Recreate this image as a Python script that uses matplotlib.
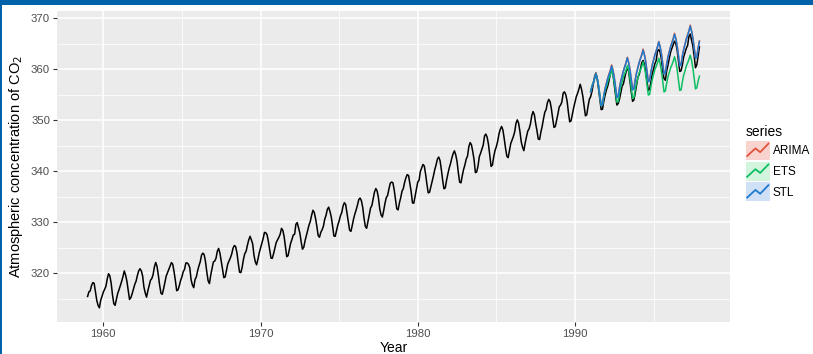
import matplotlib
matplotlib.use('Agg')
import matplotlib.pyplot as plt
from matplotlib.legend_handler import HandlerBase
from matplotlib.lines import Line2D
from matplotlib.patches import Rectangle
import numpy as np

plt.rcParams['font.family'] = ['Liberation Sans', 'DejaVu Sans']

# Monthly CO2 (ppm), Jan 1959 - Dec 1997
co2 = [
    315.42, 316.31, 316.50, 317.56, 318.13, 318.00, 316.39, 314.65, 313.68, 313.18, 314.66, 315.43,
    316.27, 316.81, 317.42, 318.87, 319.87, 319.43, 318.01, 315.74, 314.00, 313.68, 314.84, 316.03,
    316.73, 317.54, 318.38, 319.31, 320.42, 319.61, 318.42, 316.63, 314.83, 315.16, 315.94, 316.85,
    317.78, 318.40, 319.53, 320.42, 320.85, 320.45, 319.45, 317.25, 316.11, 315.27, 316.53, 317.53,
    318.58, 318.92, 319.70, 321.22, 322.08, 321.31, 319.58, 317.61, 316.05, 315.83, 316.91, 318.20,
    319.41, 320.07, 320.74, 321.40, 322.06, 321.73, 320.27, 318.54, 316.54, 316.71, 317.53, 318.55,
    319.27, 320.28, 320.73, 321.97, 322.00, 321.71, 321.05, 318.71, 317.66, 317.14, 318.70, 319.25,
    320.46, 321.43, 322.23, 323.54, 323.91, 323.59, 322.24, 320.20, 318.48, 317.94, 319.63, 320.87,
    322.17, 322.34, 322.88, 324.25, 324.83, 323.93, 322.38, 320.76, 319.10, 319.24, 320.56, 321.80,
    322.40, 322.99, 323.73, 324.86, 325.40, 325.20, 323.98, 321.95, 320.18, 320.09, 321.16, 322.74,
    323.83, 324.26, 325.47, 326.50, 327.21, 326.54, 325.72, 323.50, 322.22, 321.62, 322.69, 323.95,
    324.89, 325.82, 326.77, 327.97, 327.91, 327.50, 326.18, 324.53, 322.93, 322.90, 323.85, 324.96,
    326.01, 326.51, 327.01, 327.62, 328.76, 328.40, 327.20, 325.27, 323.20, 323.40, 324.63, 325.85,
    326.60, 327.47, 327.58, 329.56, 329.90, 328.92, 327.88, 326.16, 324.68, 325.04, 326.34, 327.39,
    328.37, 329.40, 330.14, 331.33, 332.31, 331.90, 330.70, 329.15, 327.35, 327.02, 327.99, 328.48,
    329.18, 330.55, 331.32, 332.48, 332.92, 332.08, 331.01, 329.23, 327.27, 327.21, 328.29, 329.41,
    330.23, 331.25, 331.87, 333.14, 333.80, 333.43, 331.73, 329.90, 328.40, 328.17, 329.32, 330.59,
    331.58, 332.39, 333.33, 334.41, 334.71, 334.17, 332.89, 330.77, 329.14, 328.78, 330.14, 331.52,
    332.75, 333.24, 334.53, 335.90, 336.57, 336.10, 334.76, 332.59, 331.42, 330.98, 332.24, 333.68,
    334.80, 335.22, 336.47, 337.59, 337.84, 337.72, 336.37, 334.51, 332.60, 332.38, 333.75, 334.78,
    336.05, 336.59, 337.79, 338.71, 339.30, 339.12, 337.56, 335.92, 333.75, 333.70, 335.12, 336.56,
    337.84, 338.19, 339.91, 340.60, 341.29, 341.00, 339.39, 337.43, 335.72, 335.84, 336.93, 338.04,
    339.06, 340.30, 341.21, 342.33, 342.74, 342.08, 340.32, 338.26, 336.52, 336.68, 338.19, 339.44,
    340.57, 341.44, 342.53, 343.39, 343.96, 343.18, 341.88, 339.65, 337.81, 337.69, 339.09, 340.32,
    341.20, 342.35, 342.93, 344.77, 345.58, 345.14, 343.81, 342.21, 339.69, 339.82, 340.98, 342.82,
    343.52, 344.33, 345.11, 346.88, 347.25, 346.62, 345.22, 343.11, 340.90, 341.18, 342.80, 344.04,
    344.79, 345.82, 347.25, 348.17, 348.74, 348.07, 346.38, 344.51, 342.92, 342.62, 344.06, 345.38,
    346.11, 346.78, 347.68, 349.37, 350.03, 349.37, 347.76, 345.73, 344.68, 343.99, 345.48, 346.72,
    347.84, 348.29, 349.23, 350.80, 351.66, 351.07, 349.33, 347.92, 346.27, 346.18, 347.64, 348.78,
    350.25, 351.54, 352.05, 353.41, 354.04, 353.62, 352.22, 350.27, 348.55, 348.72, 349.91, 351.18,
    352.60, 352.92, 353.53, 355.26, 355.52, 354.97, 353.75, 351.52, 349.64, 349.83, 351.14, 352.37,
    353.50, 354.55, 355.23, 356.04, 357.00, 356.07, 354.67, 352.76, 350.82, 351.04, 352.69, 354.07,
    354.59, 355.63, 357.03, 358.48, 359.22, 358.12, 356.06, 353.92, 352.05, 352.11, 353.64, 354.89,
    355.88, 356.63, 357.72, 359.07, 359.58, 359.17, 356.94, 354.92, 352.94, 353.23, 354.09, 355.33,
    356.63, 357.10, 358.32, 359.41, 360.23, 359.55, 357.53, 355.48, 353.67, 353.95, 355.30, 356.78,
    358.34, 358.89, 359.95, 361.25, 361.67, 360.94, 359.55, 357.49, 355.84, 356.00, 357.59, 359.05,
    359.98, 361.03, 361.66, 363.48, 363.82, 363.30, 361.94, 359.50, 358.11, 357.80, 359.61, 360.74,
    362.09, 363.29, 364.06, 364.76, 365.45, 365.01, 363.70, 361.54, 359.51, 359.65, 360.80, 362.38,
    363.23, 364.06, 364.61, 366.40, 366.84, 365.68, 364.52, 362.57, 360.24, 360.83, 362.49, 364.34,
]
co2_start = 1959

# Forecasts, Jan 1991 - Dec 1997
fc_start = 1991
arima = [
    355.6, 356.6, 357.4, 358.2, 359.2, 358.2, 356.8, 354.8, 352.9, 353.1, 354.8, 356.2,
    357.2, 358.2, 359.0, 359.8, 360.8, 359.8, 358.4, 356.4, 354.5, 354.7, 356.4, 357.7,
    358.7, 359.7, 360.5, 361.3, 362.3, 361.3, 359.9, 358.0, 356.0, 356.2, 357.9, 359.3,
    360.3, 361.3, 362.1, 362.9, 363.9, 362.9, 361.5, 359.5, 357.6, 357.8, 359.5, 360.8,
    361.8, 362.8, 363.6, 364.4, 365.4, 364.4, 363.0, 361.1, 359.1, 359.3, 361.0, 362.4,
    363.4, 364.4, 365.2, 366.0, 367.0, 366.0, 364.6, 362.6, 360.7, 360.9, 362.6, 363.9,
    364.9, 365.9, 366.7, 367.5, 368.6, 367.5, 366.1, 364.2, 362.2, 362.4, 364.1, 365.5,
]
ets = [
    355.6, 356.7, 357.3, 358.1, 359.1, 358.1, 356.7, 354.7, 352.8, 353.0, 354.6, 355.8,
    356.5, 357.5, 358.2, 358.9, 359.8, 358.9, 357.4, 355.5, 353.5, 353.6, 355.2, 356.6,
    357.5, 358.5, 359.1, 359.8, 360.7, 359.7, 358.2, 356.2, 354.2, 354.4, 356.0, 357.3,
    358.2, 359.2, 359.8, 360.5, 361.4, 360.4, 358.9, 356.9, 354.9, 355.0, 356.6, 357.9,
    358.9, 359.9, 360.5, 361.2, 362.1, 361.1, 359.6, 357.6, 355.5, 355.7, 357.2, 358.5,
    359.3, 360.2, 360.8, 361.5, 362.4, 361.4, 359.9, 357.8, 355.8, 355.9, 357.5, 358.8,
    359.6, 360.6, 361.2, 361.9, 362.7, 361.7, 360.2, 358.2, 356.1, 356.3, 357.6, 358.6,
]
stl = [
    355.5, 356.5, 357.3, 358.1, 359.1, 358.1, 356.7, 354.8, 352.8, 353.0, 354.7, 356.1,
    357.1, 358.1, 358.9, 359.6, 360.6, 359.7, 358.3, 356.4, 354.4, 354.6, 356.3, 357.6,
    358.6, 359.6, 360.4, 361.2, 362.2, 361.2, 359.8, 357.9, 355.9, 356.1, 357.8, 359.2,
    360.2, 361.2, 362.0, 362.7, 363.7, 362.8, 361.4, 359.5, 357.5, 357.7, 359.4, 360.7,
    361.7, 362.7, 363.5, 364.3, 365.3, 364.3, 362.9, 361.0, 359.0, 359.2, 360.9, 362.3,
    363.3, 364.3, 365.1, 365.8, 366.8, 365.9, 364.5, 362.6, 360.6, 360.8, 362.5, 363.8,
    364.8, 365.8, 366.6, 367.4, 368.4, 367.4, 366.0, 364.1, 362.1, 362.3, 364.0, 365.4,
]

series_names = ['ARIMA', 'ETS', 'STL']
series_values = [arima, ets, stl]
line_colors = ['#E0533D', '#0DBF63', '#1F7ACF']
key_fills = ['#F9D4CF', '#D3F5DD', '#CFE0F7']

x_ticks = [1960, 1970, 1980, 1990]
y_ticks = [320, 330, 340, 350, 360, 370]


class ForecastKey(HandlerBase):
    # shaded box with a little zig-zag line, like the ggplot forecast key
    def __init__(self, fill):
        super().__init__()
        self.fill = fill

    def create_artists(self, legend, orig_handle, xdescent, ydescent,
                       width, height, fontsize, trans):
        x0, y0 = -xdescent, -ydescent
        box = Rectangle((x0, y0), width, height, facecolor=self.fill,
                        edgecolor='none', transform=trans)
        fx = np.array([0.05, 0.4, 0.6, 0.95])
        fy = np.array([0.2, 0.6, 0.4, 0.85])
        zig = Line2D(x0 + fx * width, y0 + fy * height,
                     color=orig_handle.get_color(), lw=1.3, transform=trans)
        return [box, zig]


fig = plt.figure(figsize=(8.13, 3.54), dpi=100)
fig.patch.set_facecolor('white')

# window frame strips
fig.patches.append(Rectangle((0, 1 - 5 / 354), 1, 5 / 354, transform=fig.transFigure,
                             facecolor='#0062A8', edgecolor='none', zorder=10))
fig.patches.append(Rectangle((0, 0), 2 / 813, 1, transform=fig.transFigure,
                             facecolor='#0062A8', edgecolor='none', zorder=10))

ax = fig.add_axes([57 / 813, 32 / 354, 673 / 813, 311 / 354])
ax.set_facecolor('#EBEBEB')
for s in ax.spines.values():
    s.set_visible(False)

t_obs = co2_start + np.arange(len(co2)) / 12
ax.plot(t_obs, co2, color='black', lw=1.1, zorder=3)

handles = []
for name, vals, col in zip(series_names, series_values, line_colors):
    t_fc = fc_start + np.arange(len(vals)) / 12
    h, = ax.plot(t_fc, vals, color=col, lw=1.1, zorder=4, label=name)
    handles.append(h)

# ggplot-style 5% expansion
xlo, xhi = t_obs[0], t_obs[-1]
xpad = 0.05 * (xhi - xlo)
ax.set_xlim(xlo - xpad, xhi + xpad)
ymin = min(min(co2), min(min(v) for v in series_values))
ymax = max(max(co2), max(max(v) for v in series_values))
ypad = 0.05 * (ymax - ymin)
ax.set_ylim(ymin - ypad, ymax + ypad)

ax.set_xticks(x_ticks)
ax.set_yticks(y_ticks)
ax.set_xticks([1965, 1975, 1985, 1995], minor=True)
ax.set_yticks([315, 325, 335, 345, 355, 365], minor=True)
ax.grid(which='major', color='white', lw=1.1)
ax.grid(which='minor', color='white', lw=0.55)
ax.set_axisbelow(True)
ax.tick_params(which='major', length=3, width=0.8, color='#333333',
               labelsize=8.2, labelcolor='#4D4D4D', pad=2)
ax.tick_params(which='minor', length=0)

ax.set_xlabel('Year', fontsize=10, labelpad=0)
ax.xaxis.set_label_coords(0.5, -0.06)
ax.set_ylabel('Atmospheric concentration of CO$_2$', fontsize=10.5, labelpad=4)

leg = fig.legend(handles=handles, labels=series_names, title='series',
                 loc='upper left', bbox_to_anchor=(746 / 813, 1 - 125 / 354),
                 frameon=False, fontsize=8.5, title_fontsize=10,
                 handlelength=2.0, handleheight=2.1, handletextpad=0.25,
                 labelspacing=0.15, borderpad=0, borderaxespad=0,
                 handler_map={h: ForecastKey(f) for h, f in zip(handles, key_fills)})
leg._legend_box.align = 'left'

fig.savefig('out.png', dpi=100)
